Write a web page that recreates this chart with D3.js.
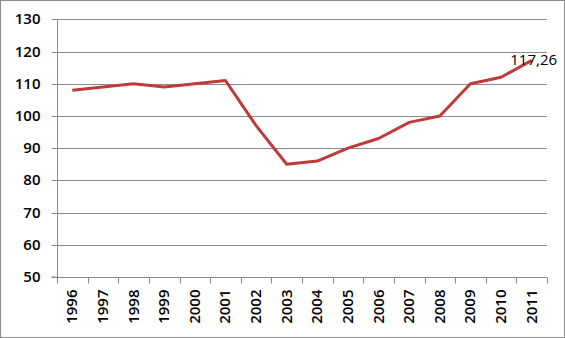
<!DOCTYPE html>
<html><head><meta charset="utf-8">
<script src="https://cdn.jsdelivr.net/npm/d3@7"></script>
<style>body{margin:0;background:#fff}svg{display:block}</style>
</head><body>
<script>
const years = ["1996","1997","1998","1999","2000","2001","2002","2003","2004","2005","2006","2007","2008","2009","2010","2011"];
const values = [108,109,110,109,110,111,97,85,86,90,93,98,100,110,112,117.26];
const yTicks = [50,60,70,80,90,100,110,120,130];
const lastLabel = "117,26";

const W = 565, H = 338;
const m = {left:57, right:18, top:19.3, bottom:61};
const svg = d3.select("body").append("svg").attr("width",W).attr("height",H);
svg.append("rect").attr("x",0.5).attr("y",0.5).attr("width",W-1).attr("height",H-1)
  .attr("fill","#fff").attr("stroke","#8c8c8c");

const x = d3.scaleBand().domain(years).range([m.left, W-m.right]);
const y = d3.scaleLinear().domain([50,130]).range([H-m.bottom, m.top]);
const font = "'Open Sans', sans-serif";

// grid
svg.append("g").selectAll("line").data(yTicks.slice(1)).join("line")
  .attr("x1",m.left).attr("x2",W-m.right)
  .attr("y1",d=>Math.round(y(d))+0.5).attr("y2",d=>Math.round(y(d))+0.5)
  .attr("stroke","#8a8a8a").attr("stroke-width",1);

// y axis
const ya = svg.append("g").attr("transform",`translate(${m.left+0.5},0)`)
  .call(d3.axisLeft(y).tickValues(yTicks).tickSize(6).tickPadding(11).tickFormat(d3.format("d")));
ya.select(".domain").attr("stroke","#8a8a8a").attr("d",`M-6,${y(50)}H0V${y(130)}`);
ya.selectAll(".tick line").attr("stroke","#8a8a8a");
ya.selectAll(".tick").attr("transform",d=>`translate(0,${Math.round(y(d))+0.5})`);
ya.selectAll("text").attr("font-family",font).attr("font-size",15).attr("font-weight",600).attr("fill","#000");

// x axis
const xb = Math.round(y(50))+0.5;
const xg = svg.append("g");
xg.append("line").attr("x1",m.left).attr("x2",W-m.right).attr("y1",xb).attr("y2",xb).attr("stroke","#8a8a8a");
const bounds = years.map(d=>x(d)).concat([W-m.right]);
xg.selectAll("line.t").data(bounds).join("line").attr("class","t")
  .attr("x1",d=>Math.round(d)+0.5).attr("x2",d=>Math.round(d)+0.5)
  .attr("y1",xb).attr("y2",xb+6).attr("stroke","#8a8a8a");
xg.selectAll("text").data(years).join("text")
  .attr("transform",d=>`translate(${x(d)+x.bandwidth()/2+5},${xb+12}) rotate(-90)`)
  .attr("text-anchor","end")
  .attr("font-family",font).attr("font-size",15).attr("font-weight",600).attr("fill","#000")
  .text(d=>d);

// line
const line = d3.line().x((d,i)=>x(years[i])+x.bandwidth()/2).y(d=>y(d));
svg.append("path").datum(values).attr("d",line).attr("fill","none")
  .attr("stroke","#be3b3a").attr("stroke-width",3).attr("stroke-linejoin","round");

// label
const li = values.length-1;
svg.append("text").attr("x",x(years[li])+x.bandwidth()/2+2).attr("y",y(values[li])+5)
  .attr("text-anchor","middle").attr("font-family",font).attr("font-size",15).attr("font-weight",500)
  .attr("fill","#000").text(lastLabel);
</script>
</body></html>
